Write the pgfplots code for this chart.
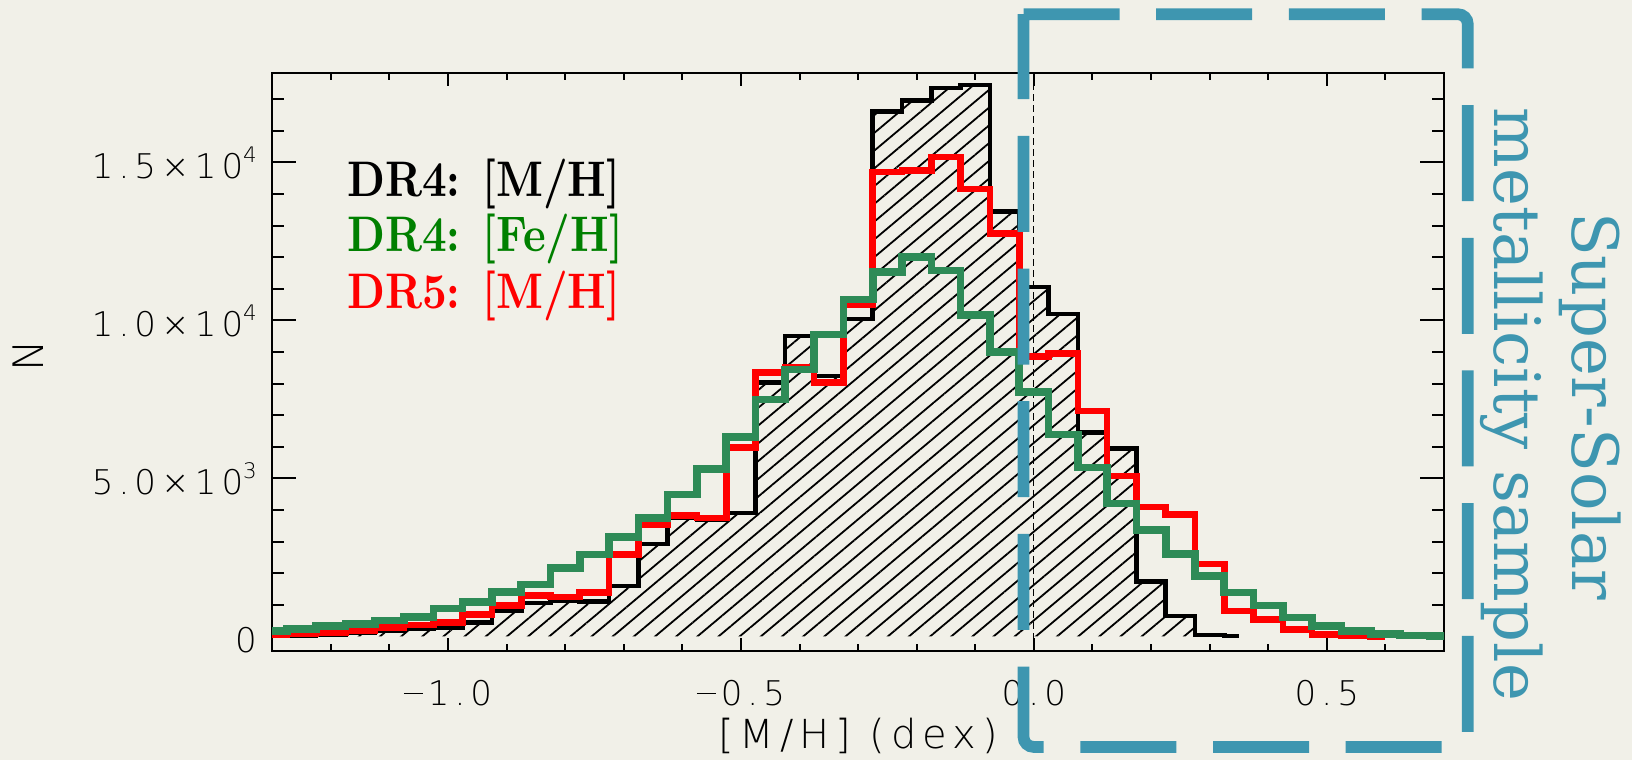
\documentclass[border=0pt]{standalone}
\usepackage{fontspec}
\usepackage{pgfplots}
\usepackage{pgfplotstable}
\pgfplotsset{compat=1.18}
\usetikzlibrary{patterns.meta}

\definecolor{bg}{RGB}{241,240,232}
\definecolor{feh}{RGB}{46,139,87}
\definecolor{fehlabel}{RGB}{0,128,0}
\definecolor{ssteal}{RGB}{62,150,176}

\IfFontExistsTF{DejaVu Sans ExtraLight}
  {\newfontfamily\tickfont[LetterSpace=15]{DejaVu Sans ExtraLight}}
  {\newfontfamily\tickfont[LetterSpace=15]{DejaVu Sans}}
\newfontfamily\notefont{DejaVu Serif}
\newfontfamily\legfont{lmroman10-bold}[Extension=.otf]
\newcommand\tsup[1]{\raisebox{7.8pt}{\fontsize{10.7}{11}\selectfont #1}}
\newcommand\tminus{\rule[5.6pt]{9.5pt}{0.75pt}\hspace{2.5pt}}

% DR4 [M/H] histogram (bin centres, counts)
\pgfplotstableread{
x n
-1.35 5
-1.30 10
-1.25 30
-1.20 60
-1.15 110
-1.10 170
-1.05 230
-1.00 280
-0.95 430
-0.90 800
-0.85 1060
-0.80 1130
-0.75 1110
-0.70 1590
-0.65 2920
-0.60 3750
-0.55 3700
-0.50 3900
-0.45 8030
-0.40 9510
-0.35 8240
-0.30 10040
-0.25 16600
-0.20 16950
-0.15 17350
-0.10 17450
-0.05 13450
0.00 11050
0.05 10200
0.10 6460
0.15 5940
0.20 1730
0.25 640
0.30 40
0.35 10
}\dfourmh

% DR5 [M/H]
\pgfplotstableread{
x n
-1.35 40
-1.30 50
-1.25 70
-1.20 120
-1.15 195
-1.10 280
-1.05 360
-1.00 430
-0.95 700
-0.90 970
-0.85 1290
-0.80 1240
-0.75 1390
-0.70 2600
-0.65 3540
-0.60 3820
-0.55 3740
-0.50 5975
-0.45 8350
-0.40 8500
-0.35 8030
-0.30 10500
-0.25 14700
-0.20 14750
-0.15 15170
-0.10 14150
-0.05 12740
0.00 8850
0.05 8950
0.10 7130
0.15 5070
0.20 4100
0.25 3850
0.30 2290
0.35 800
0.40 530
0.45 220
0.50 60
0.55 15
0.60 5
}\dfivemh

% DR4 [Fe/H]
\pgfplotstableread{
x n
-1.35 160
-1.30 170
-1.25 240
-1.20 320
-1.15 390
-1.10 500
-1.05 610
-1.00 880
-0.95 1090
-0.90 1400
-0.85 1640
-0.80 2155
-0.75 2590
-0.70 3150
-0.65 3750
-0.60 4490
-0.55 5300
-0.50 6300
-0.45 7490
-0.40 8440
-0.35 9550
-0.30 10660
-0.25 11530
-0.20 12000
-0.15 11580
-0.10 10160
-0.05 9000
0.00 7730
0.05 6390
0.10 5350
0.15 4210
0.20 3370
0.25 2600
0.30 1920
0.35 1390
0.40 980
0.45 600
0.50 335
0.55 170
0.60 70
0.65 30
0.70 20
0.75 20
}\dfourfeh

\begin{document}
\begin{tikzpicture}
\fill[bg] (-136.1pt,-54.7pt) rectangle (679.9pt,325.3pt);
\begin{axis}[
  at={(0pt,0pt)}, anchor=south west,
  scale only axis, width=585.9pt, height=288.85pt,
  xmin=-1.3, xmax=0.7, ymin=-450, ymax=17830,
  scaled y ticks=false, scaled x ticks=false,
  axis line style={line width=1pt, black},
  xtick={-1,-0.5,0,0.5},
  xticklabels={\tminus 1.0,\tminus 0.5,0.0,0.5},
  minor xtick={-1.2,-1.1,-0.9,-0.8,-0.7,-0.6,-0.4,-0.3,-0.2,-0.1,0.1,0.2,0.3,0.4,0.6},
  ytick={0,5000,10000,15000},
  yticklabels={0,5.0×10\tsup{3},1.0×10\tsup{4},1.5×10\tsup{4}},
  minor ytick={1000,2000,3000,4000,6000,7000,8000,9000,11000,12000,13000,14000,16000,17000},
  tick align=inside, xtick pos=both, ytick pos=both,
  tick style={line width=1pt, black},
  every major x tick/.append style={/pgfplots/major tick length=6.5pt},
  every minor x tick/.append style={/pgfplots/minor tick length=3.5pt},
  every major y tick/.append style={/pgfplots/major tick length=11.8pt},
  every minor y tick/.append style={/pgfplots/minor tick length=5.9pt},
  major tick length=11.8pt, minor tick length=5.9pt,
  xticklabel style={font=\tickfont\fontsize{17}{17}\selectfont, anchor=base, inner sep=0pt, yshift=-27.5pt},
  yticklabel style={font=\tickfont\fontsize{17}{17}\selectfont, anchor=base east, inner sep=0pt, xshift=-7.5pt, yshift=-7.9pt},
  xlabel={[M/H] (dex)},
  xlabel style={at={(axis description cs:0.5,-0.1700)}, anchor=base, inner sep=0pt, font=\tickfont\fontsize{20}{20}\selectfont},
  ylabel={N},
  ylabel style={at={(axis description cs:-0.2084,0.51)}, anchor=center, inner sep=0pt, font=\tickfont\fontsize{21}{21}\selectfont},
]
% hatched area under the DR4 [M/H] distribution
\addplot[draw=none, const plot mark mid,
  pattern={Lines[angle=40,distance=6.8pt,line width=0.9pt]}, pattern color=black]
  table[x=x,y=n]{\dfourmh} \closedcycle;
% solar reference
\draw[line width=0.6pt, dash pattern=on 3.5pt off 2pt] (axis cs:0,-450) -- (axis cs:0,17830);
\addplot[black, line width=2.3pt, const plot mark mid, line join=miter] table[x=x,y=n]{\dfourmh};
\addplot[red, line width=3.3pt, const plot mark mid, line join=miter] table[x=x,y=n]{\dfivemh};
\addplot[feh, line width=3.8pt, const plot mark mid, line join=miter] table[x=x,y=n]{\dfourfeh};
\end{axis}

% labels of the three distributions
\begin{scope}[every node/.style={anchor=base west, inner sep=0pt, xscale=0.86,
    font=\legfont\fontsize{25}{30}\selectfont}]
  \node[text=black]    at (37.3pt,226.9pt) {DR4: [M/H]};
  \node[text=fehlabel] at (37.3pt,199.4pt) {DR4: [Fe/H]};
  \node[text=red]      at (37.3pt,170.8pt) {DR5: [M/H]};
\end{scope}

% super-solar selection box
\draw[ssteal, line width=5.85pt, dash pattern=on 48pt off 18.35pt, rounded corners=5pt]
  (375.65pt,318.2pt) -- (597.8pt,318.2pt) -- (597.8pt,-48.15pt)
  -- (375.65pt,-48.15pt) -- (375.65pt,318.2pt);
\node[rotate=-90, anchor=base, inner sep=0pt, text=ssteal,
  font=\notefont\fontsize{32}{38}\selectfont] at (650.2pt,122.3pt) {Super-Solar};
\node[rotate=-90, anchor=base, inner sep=0pt, text=ssteal,
  font=\notefont\fontsize{32}{38}\selectfont] at (610.9pt,123pt) {metallicity sample};

\pgfresetboundingbox
\path[use as bounding box] (-136.1pt,-54.7pt) rectangle (679.9pt,325.3pt);
\end{tikzpicture}
\end{document}
